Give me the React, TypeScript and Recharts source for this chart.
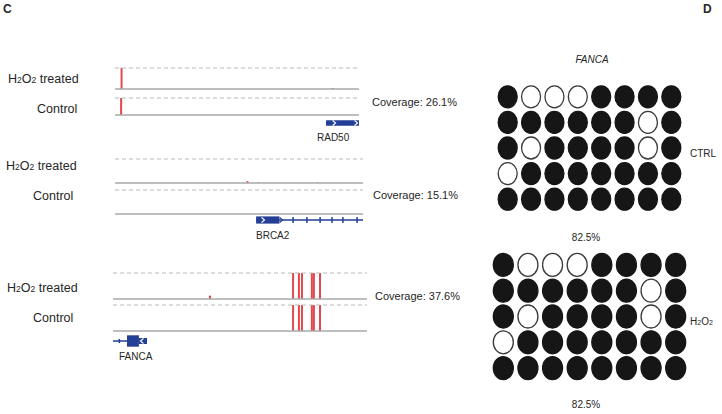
import React from "react";
import {
  ComposedChart,
  ScatterChart,
  Bar,
  Scatter,
  XAxis,
  YAxis,
  ReferenceLine,
  ReferenceArea,
} from "recharts";

const FONT = '"Liberation Sans", Arial, Helvetica, sans-serif';
const INK = "#262626";
const RED = "#e4484e";
const BLUE = "#233f96";
const DASH = "#b9b9b9";
const BASE = "#a8a8a8";

// panel C: pos = position in % of the shown window, cov = relative depth
const RAD50_TREATED = [
  { pos: 2.5, cov: 1 },
  { pos: 89, cov: 0.05 },
];
const RAD50_CONTROL = [{ pos: 2.5, cov: 1 }];
const BRCA2_TREATED = [
  { pos: 53.6, cov: 0.08 },
  { pos: 58, cov: 0.03 },
  { pos: 82, cov: 0.03 },
];
const BRCA2_CONTROL = [{ pos: 50, cov: 0 }];
const FANCA_TREATED = [
  { pos: 38.2, cov: 0.13 },
  { pos: 70.9, cov: 1 },
  { pos: 73.2, cov: 1 },
  { pos: 74.4, cov: 1 },
  { pos: 78.3, cov: 1 },
  { pos: 79.1, cov: 1 },
  { pos: 81.5, cov: 1 },
];
const FANCA_CONTROL = [
  { pos: 70.9, cov: 1 },
  { pos: 73.2, cov: 1 },
  { pos: 74.4, cov: 1 },
  { pos: 78.3, cov: 1 },
  { pos: 79.1, cov: 1 },
  { pos: 81.5, cov: 1 },
];

// gene models (h = half height of the exon box)
const RAD50_EXONS = [{ start: 86.5, end: 100, h: 0.45 }];
const RAD50_SPAN = [86.5, 100];
const RAD50_ARROWS = [89.8, 98.8];

const BRCA2_EXONS = [
  { start: 56.9, end: 66.3, h: 0.6 },
  { start: 71.5, end: 72.1, h: 0.5 },
  { start: 77.1, end: 77.7, h: 0.5 },
  { start: 82.4, end: 83.0, h: 0.5 },
  { start: 87.2, end: 87.8, h: 0.5 },
  { start: 91.6, end: 92.2, h: 0.5 },
  { start: 97.3, end: 97.9, h: 0.5 },
];
const BRCA2_SPAN = [56.9, 100];
const BRCA2_ARROWS = [59.7, 67];

const FANCA_EXONS = [
  { start: 2.2, end: 2.8, h: 0.35 },
  { start: 5.5, end: 10.2, h: 0.95 },
  { start: 10.2, end: 13.4, h: 0.5 },
];
const FANCA_SPAN = [0, 13.4];
const FANCA_ARROWS = [11.4];

const GENES = ["RAD50", "BRCA2", "FANCA"];
const STRANDS = ["+", "+", "-"];
const COVERAGE = ["26.1%", "15.1%", "37.6%"];

// panel D: 1 = methylated (filled), 0 = unmethylated (open)
const CTRL_ROWS = [
  [1, 0, 0, 0, 1, 1, 1, 1],
  [1, 1, 1, 1, 1, 1, 0, 1],
  [1, 0, 1, 1, 1, 1, 0, 1],
  [0, 1, 1, 1, 1, 1, 1, 1],
  [1, 1, 1, 1, 1, 1, 1, 1],
];
const H2O2_ROWS = [
  [1, 0, 0, 0, 1, 1, 1, 1],
  [1, 1, 1, 1, 1, 1, 0, 1],
  [1, 0, 1, 1, 1, 1, 0, 1],
  [0, 1, 1, 1, 1, 1, 1, 1],
  [1, 1, 1, 1, 1, 1, 1, 1],
];
const METHYLATION = ["82.5%", "82.5%"];

const LOCI = [
  { treated: RAD50_TREATED, control: RAD50_CONTROL, exons: RAD50_EXONS, span: RAD50_SPAN, arrows: RAD50_ARROWS },
  { treated: BRCA2_TREATED, control: BRCA2_CONTROL, exons: BRCA2_EXONS, span: BRCA2_SPAN, arrows: BRCA2_ARROWS },
  { treated: FANCA_TREATED, control: FANCA_CONTROL, exons: FANCA_EXONS, span: FANCA_SPAN, arrows: FANCA_ARROWS },
];

const LAYOUT = [
  { x: 115, w: 244, tTop: 68, tBase: 89, cTop: 98, cBase: 115, geneY: 123, glX: 317, glY: 138, covX: 372, covY: 103, trX: 8, trY: 79, coX: 37, coY: 109 },
  { x: 115, w: 248, tTop: 159, tBase: 183, cTop: 190, cBase: 214, geneY: 220, glX: 256, glY: 236, covX: 373, covY: 196, trX: 6, trY: 166, coX: 33, coY: 196 },
  { x: 113, w: 254, tTop: 273, tBase: 299, cTop: 305, cBase: 331, geneY: 341, glX: 119, glY: 357, covX: 375, covY: 297, trX: 7, trY: 288, coX: 33, coY: 318 },
];

function Text({ x, cy, size, center, italic, bold, children }: any) {
  return (
    <div
      style={{
        position: "absolute",
        left: x,
        top: cy - size * 0.6,
        fontFamily: FONT,
        fontSize: size,
        lineHeight: `${size * 1.2}px`,
        color: INK,
        whiteSpace: "nowrap",
        fontStyle: italic ? "italic" : "normal",
        fontWeight: bold ? 700 : 400,
        transform: center ? "translateX(-50%)" : undefined,
      }}
    >
      {children}
    </div>
  );
}

function H2O2({ sub }: { sub: number }) {
  const s = { fontSize: sub, verticalAlign: "-0.05em" };
  return (
    <>
      H<span style={s}>2</span>O<span style={s}>2</span>
    </>
  );
}

function Track({ data, left, top, base, width }: any) {
  const h = base - top;
  return (
    <div style={{ position: "absolute", left, top: top - 2 }}>
      <ComposedChart width={width} height={h + 4} data={data} margin={{ top: 2, right: 0, bottom: 2, left: 0 }}>
        <XAxis dataKey="pos" type="number" domain={[0, 100]} hide />
        <YAxis type="number" domain={[0, 1]} hide />
        <ReferenceLine y={1} stroke={DASH} strokeDasharray="4 3" strokeWidth={1} />
        <ReferenceLine y={0} stroke={BASE} strokeWidth={1.4} />
        <Bar dataKey="cov" fill={RED} barSize={2} isAnimationActive={false} />
      </ComposedChart>
    </div>
  );
}

function Gene({ exons, span, arrows, strand, left, cy, width }: any) {
  const pts = arrows.map((pos: number) => ({
    pos,
    y: 0,
    inside: exons.some((e: any) => e.h > 0.4 && pos >= e.start && pos <= e.end),
  }));
  const dir = strand === "+" ? 1 : -1;
  return (
    <div style={{ position: "absolute", left, top: cy - 8 }}>
      <ComposedChart width={width} height={16} data={pts} margin={{ top: 2, right: 0, bottom: 2, left: 0 }}>
        <XAxis dataKey="pos" type="number" domain={[0, 100]} hide />
        <YAxis dataKey="y" type="number" domain={[-1, 1]} hide />
        <ReferenceLine
          segment={[
            { x: span[0], y: 0 },
            { x: span[1], y: 0 },
          ]}
          stroke={BLUE}
          strokeWidth={1.3}
        />
        {exons.map((e: any, i: number) => (
          <ReferenceArea key={i} x1={e.start} x2={e.end} y1={-e.h} y2={e.h} fill={BLUE} fillOpacity={1} stroke="none" />
        ))}
        <Scatter
          dataKey="y"
          isAnimationActive={false}
          shape={(p: any) => (
            <path
              d={`M${p.cx - 1.5 * dir},${p.cy - 2.5} L${p.cx + 1.5 * dir},${p.cy} L${p.cx - 1.5 * dir},${p.cy + 2.5}`}
              fill="none"
              stroke={p.payload.inside ? "#ffffff" : BLUE}
              strokeWidth={1.1}
            />
          )}
        />
      </ComposedChart>
    </div>
  );
}

function Grid({ rows, left, top, width, height, rx, ry }: any) {
  const pts = rows.flatMap((r: number[], i: number) => r.map((m, j) => ({ col: j + 1, row: i + 1, m })));
  return (
    <div style={{ position: "absolute", left, top }}>
      <ScatterChart width={width} height={height} margin={{ top: 0, right: 0, bottom: 0, left: 0 }}>
        <XAxis dataKey="col" type="number" domain={[0.5, 8.5]} hide />
        <YAxis dataKey="row" type="number" domain={[0.5, 5.5]} reversed hide />
        <Scatter
          data={pts}
          isAnimationActive={false}
          shape={(p: any) => (
            <ellipse
              cx={p.cx}
              cy={p.cy}
              rx={rx}
              ry={ry}
              fill={p.payload.m ? "#161616" : "#ffffff"}
              stroke={p.payload.m ? "#161616" : "#3a3a3a"}
              strokeWidth={1.3}
            />
          )}
        />
      </ScatterChart>
    </div>
  );
}

export default function App() {
  return (
    <div style={{ position: "absolute", left: 0, top: 0, width: 722, height: 414, background: "#fff", overflow: "hidden" }}>
      <Text x={3} cy={9} size={12} bold>C</Text>
      <Text x={703} cy={9} size={12} bold>D</Text>

      {LOCI.map((loc, i) => {
        const L = LAYOUT[i];
        return (
          <React.Fragment key={GENES[i]}>
            <Track data={loc.treated} left={L.x} top={L.tTop} base={L.tBase} width={L.w} />
            <Track data={loc.control} left={L.x} top={L.cTop} base={L.cBase} width={L.w} />
            <Gene exons={loc.exons} span={loc.span} arrows={loc.arrows} strand={STRANDS[i]} left={L.x} cy={L.geneY} width={L.w} />
            <Text x={L.trX} cy={L.trY} size={12.5}>
              <H2O2 sub={8.5} /> treated
            </Text>
            <Text x={L.coX} cy={L.coY} size={12.5}>Control</Text>
            <Text x={L.glX} cy={L.glY} size={10}>{GENES[i]}</Text>
            <Text x={L.covX} cy={L.covY} size={11}>Coverage: {COVERAGE[i]}</Text>
          </React.Fragment>
        );
      })}

      <Text x={592} cy={60} size={10} center italic>FANCA</Text>
      <Grid rows={CTRL_ROWS} left={496} top={84} width={187} height={128} rx={9.5} ry={11} />
      <Text x={690} cy={154} size={10}>CTRL</Text>
      <Text x={586} cy={238} size={10} center>{METHYLATION[0]}</Text>
      <Grid rows={H2O2_ROWS} left={491} top={252} width={197} height={129} rx={10} ry={11.5} />
      <Text x={690} cy={322} size={10}>
        <H2O2 sub={7} />
      </Text>
      <Text x={586} cy={405} size={10} center>{METHYLATION[1]}</Text>
    </div>
  );
}
